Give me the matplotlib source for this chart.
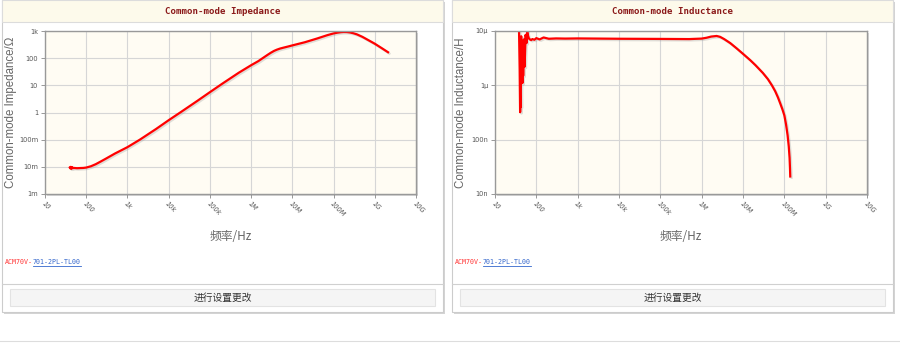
import matplotlib
matplotlib.use("Agg")
import matplotlib.pyplot as plt
from matplotlib.patches import Rectangle
from matplotlib.lines import Line2D
import matplotlib.patheffects as pe

# ---------------- data ----------------
x_ticks = [1e1, 1e2, 1e3, 1e4, 1e5, 1e6, 1e7, 1e8, 1e9, 1e10]
x_tick_labels = ["10", "100", "1k", "10k", "100k", "1M", "10M", "100M", "1G", "10G"]

imp_y_ticks = [1e-3, 1e-2, 1e-1, 1e0, 1e1, 1e2, 1e3]
imp_y_labels = ["1m", "10m", "100m", "1", "10", "100", "1k"]

ind_y_ticks = [1e-8, 1e-7, 1e-6, 1e-5]
ind_y_labels = ["10n", "100n", "1\u00b5", "10\u00b5"]

imp_freq = [40, 41, 42, 43, 44, 45, 46, 48, 50, 60, 70, 85, 100, 130, 170, 230,
            300, 500, 1e3, 2e3, 5e3, 1e4, 2e4, 5e4, 1e5, 2e5, 5e5, 1e6, 1.5e6,
            2e6, 2.5e6, 3e6, 3.6e6, 4.2e6, 5e6, 6e6, 8e6, 1e7, 2e7, 4e7, 7e7,
            1e8, 1.25e8, 1.5e8, 1.75e8, 2.1e8, 2.5e8, 3e8, 3.7e8, 5e8, 7e8,
            1e9, 1.5e9, 2.1e9]
imp_val = [0.0094, 0.0088, 0.0100, 0.0086, 0.0098, 0.0087, 0.0095, 0.0090,
           0.0091, 0.0089, 0.0090, 0.0091, 0.0094, 0.0105, 0.0125, 0.016,
           0.020, 0.031, 0.053, 0.10, 0.25, 0.52, 1.05, 2.7, 5.6, 11.5, 29,
           55, 78, 105, 132, 158, 185, 205, 225, 242, 270, 295, 385, 530, 700,
           815, 870, 905, 920, 915, 885, 830, 750, 610, 460, 340, 230, 165]

ind_freq = [38, 39.5, 40.5, 41.5, 42, 43, 44, 45, 46, 47, 48, 50, 52, 55, 58,
            60, 63, 66, 70, 75, 80, 90, 100, 120, 150, 200, 300, 500, 1e3,
            1e4, 1e5, 5e5, 1e6, 1.3e6, 1.7e6, 2.3e6, 2.8e6, 3.5e6, 4.9e6,
            7e6, 1e7, 1.5e7, 2e7, 3e7, 4e7, 5e7, 6e7, 7e7, 8e7, 9e7, 1e8,
            1.1e8, 1.2e8, 1.28e8, 1.34e8, 1.37e8, 1.39e8]
ind_val = [1.2e-5, 2e-6, 3.2e-7, 6e-7, 4e-7, 8e-6, 1.3e-6, 3e-6, 1.1e-6,
           5.5e-6, 1.5e-6, 7e-6, 2.2e-6, 8.5e-6, 6e-6, 1.0e-5, 8.2e-6,
           7.3e-6, 7.0e-6, 6.8e-6, 7.1e-6, 6.9e-6, 7.4e-6, 7.0e-6, 7.6e-6,
           7.2e-6, 7.3e-6, 7.25e-6, 7.3e-6, 7.2e-6, 7.15e-6, 7.1e-6, 7.25e-6,
           7.5e-6, 7.9e-6, 8.1e-6, 7.8e-6, 7.1e-6, 6.0e-6, 4.8e-6, 3.8e-6,
           2.9e-6, 2.35e-6, 1.7e-6, 1.3e-6, 1.0e-6, 7.8e-7, 6.0e-7, 4.6e-7,
           3.6e-7, 2.8e-7, 1.9e-7, 1.2e-7, 7.5e-8, 4.6e-8, 3.0e-8, 2.1e-8]

titles = ["Common-mode Impedance", "Common-mode Inductance"]
y_labels = ["Common-mode Impedance/\u03a9", "Common-mode Inductance/H"]
x_label = "\u9891\u7387/Hz"
part_red = "ACM70V-"
part_blue = "701-2PL-TL00"
button_text = "\u8fdb\u884c\u8bbe\u7f6e\u66f4\u6539"

# ---------------- layout helpers ----------------
W, H = 900, 343
fig = plt.figure(figsize=(W / 100, H / 100), dpi=100)
fig.patch.set_facecolor("white")

def fx(x):
    return x / W

def fy(y):
    return 1 - y / H

def prect(x0, y0, x1, y1, **kw):
    r = Rectangle((fx(x0), fy(y1)), fx(x1 - x0), (y1 - y0) / H,
                  transform=fig.transFigure, **kw)
    fig.add_artist(r)
    return r

def pline(x0, y0, x1, y1, **kw):
    fig.add_artist(Line2D([fx(x0), fx(x1)], [fy(y0), fy(y1)],
                          transform=fig.transFigure, **kw))

cjk = ["Noto Sans CJK SC", "DejaVu Sans"]

# bottom page line
pline(0, 341, 900, 341, color="#dddddd", lw=0.8)

cards = [
    dict(x0=2, x1=443, ax=(45, 31, 416, 194), freq=imp_freq, val=imp_val,
         yt=imp_y_ticks, yl=imp_y_labels, ylim=(1e-3, 1e3)),
    dict(x0=452, x1=893, ax=(495, 31, 867, 194), freq=ind_freq, val=ind_val,
         yt=ind_y_ticks, yl=ind_y_labels, ylim=(1e-8, 1e-5)),
]

for i, c in enumerate(cards):
    x0, x1 = c["x0"], c["x1"]
    # card shadow + body
    prect(x0 + 1.5, 1.5, x1 + 1.5, 313.5, facecolor="#d4d4d4", edgecolor="none", zorder=0)
    prect(x0, 0, x1, 312, facecolor="white", edgecolor="#cccccc", lw=0.8, zorder=1)
    # title bar
    prect(x0, 0, x1, 22, facecolor="#fdfaeb", edgecolor="#dcdcdc", lw=0.8, zorder=2)
    fig.text(fx((x0 + x1) / 2), fy(12), titles[i], color="#8b1a1a",
             fontsize=6.6, fontweight="bold", family="DejaVu Sans Mono",
             ha="center", va="center", zorder=3)
    # separator and button
    pline(x0, 284, x1, 284, color="#d0d0d0", lw=0.8, zorder=2)
    prect(x0 + 8, 289, x1 - 8, 306, facecolor="#f5f5f5", edgecolor="#e3e3e3", lw=0.8, zorder=2)
    fig.text(fx((x0 + x1) / 2), fy(297.5), button_text, family=cjk, fontsize=7,
             color="#333333", ha="center", va="center", zorder=3)
    # part number
    fig.text(fx(x0 + 3), fy(262), part_red, family="DejaVu Sans Mono",
             fontsize=4.8, color="#ff3333", ha="left", va="center", zorder=3)
    fig.text(fx(x0 + 31), fy(262), part_blue, family="DejaVu Sans Mono",
             fontsize=4.8, color="#3366cc", ha="left", va="center", zorder=3)
    pline(x0 + 31, 266, x0 + 79, 266, color="#3366cc", lw=0.6, zorder=3)

    # plot area shadow
    ax0, ay0, ax1, ay1 = c["ax"]
    prect(ax0 + 2, ay0 + 2, ax1 + 2, ay1 + 2, facecolor="#d8d8d8", edgecolor="none", zorder=3)

    ax = fig.add_axes([fx(ax0), fy(ay1), fx(ax1 - ax0), (ay1 - ay0) / H], zorder=4)
    ax.set_facecolor("#fffcf3")
    ax.set_xscale("log")
    ax.set_yscale("log")
    ax.set_xlim(1e1, 1e10)
    ax.set_ylim(*c["ylim"])
    ax.set_xticks(x_ticks)
    ax.set_xticklabels(x_tick_labels, rotation=-45, ha="left", va="top",
                       rotation_mode="anchor", fontsize=4.8, color="#555555",
                       fontstyle="italic")
    ax.set_yticks(c["yt"])
    ax.set_yticklabels(c["yl"], fontsize=4.8, color="#555555")
    ax.minorticks_off()
    ax.tick_params(axis="both", length=3, width=0.6, color="#888888", pad=2)
    ax.grid(True, color="#d6d6d6", lw=0.8)
    ax.set_axisbelow(True)
    for s in ax.spines.values():
        s.set_color("#999999")
        s.set_linewidth(1.0)
    ax.plot(c["freq"], c["val"], color="#ff0000", lw=1.6, solid_joinstyle="round",
            path_effects=[pe.SimpleLineShadow(offset=(1, -1), shadow_color="#999999", alpha=0.3),
                          pe.Normal()])
    ax.set_ylabel(y_labels[i], family="Liberation Sans", fontsize=8.3, color="#666666")
    ax.yaxis.set_label_coords(-(ax0 - x0 - 15) / (ax1 - ax0), 0.5)
    ax.set_xlabel(x_label, family=cjk, fontsize=8.5, color="#666666")
    ax.xaxis.set_label_coords(0.5, -(230 - ay1) / (ay1 - ay0))

fig.savefig("out.png", dpi=100, facecolor="white")
